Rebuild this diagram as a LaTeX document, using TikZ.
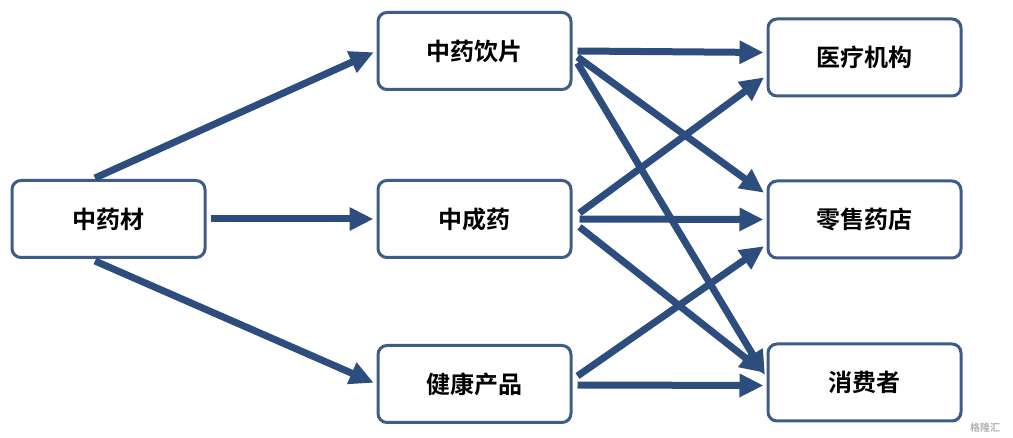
\documentclass[tikz,border=0pt]{standalone}
\usepackage{fontspec}
\newfontfamily\cjk{Noto Sans CJK SC Bold}
\usetikzlibrary{arrows.meta}
\definecolor{bd}{HTML}{3E5C8A}
\definecolor{ar}{HTML}{2C4D7E}
\begin{document}
\begin{tikzpicture}[x=1pt,y=-1pt,
 box/.style={draw=bd,line width=3pt,rounded corners=9pt,fill=white,minimum width=193pt,minimum height=77pt,font=\cjk\fontsize{24}{24}\selectfont},
 arr/.style={draw=ar,line width=7pt,shorten >=3pt,-{Triangle[length=24pt,width=22pt]}}]
\useasboundingbox (0,0) rectangle (1013,438);
\node[box] (a) at (108.5,219) {中药材};
\node[box] (b1) at (474.5,51) {中药饮片};
\node[box] (b2) at (474.5,219) {中成药};
\node[box] (b3) at (474.5,384) {健康产品};
\node[box] (c1) at (864.5,57.5) {医疗机构};
\node[box] (c2) at (864.5,219.5) {零售药店};
\node[box] (c3) at (864.5,382.5) {消费者};
\coordinate (aU) at (95,178);
\coordinate (aD) at (95,261);
\draw[arr] (aU) -- (b1.west);
\draw[arr] ([xshift=4pt]a.east) -- (b2.west);
\draw[arr] (aD) -- (b3.west);
\draw[arr] ([xshift=5pt]b1.east) -- ([yshift=5pt]c1.west);
\draw[arr] ([xshift=5pt,yshift=-6pt]b1.east) -- ([yshift=25pt]c2.west);
\draw[arr] ([xshift=5pt,yshift=-12pt]b1.east) -- ([yshift=5pt]c3.west);
\draw[arr] ([xshift=7pt,yshift=6pt]b2.east) -- ([yshift=-18pt]c1.west);
\draw[arr] ([xshift=7pt]b2.east) -- (c2.west);
\draw[arr] ([xshift=7pt,yshift=-8pt]b2.east) -- ([yshift=8pt]c3.west);
\draw[arr] ([xshift=5pt,yshift=8pt]b3.east) -- ([yshift=-25pt]c2.west);
\draw[arr] ([xshift=5pt,yshift=-1pt]b3.east) -- ([yshift=-3pt]c3.west);
\node[font=\cjk\fontsize{10}{10}\selectfont,text=gray!60] (w) at (985,428) {格隆汇};
\end{tikzpicture}
\end{document}
